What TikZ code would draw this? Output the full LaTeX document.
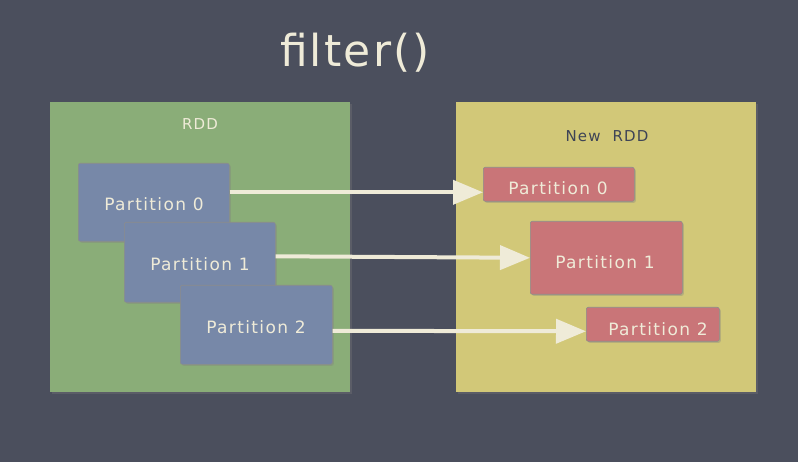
\documentclass[tikz,border=0pt]{standalone}
\usepackage{fontspec}
\setmainfont{DejaVu Sans}
\newfontfamily\chalkfont[LetterSpace=8]{DejaVu Sans}
\newfontfamily\titlefont[LetterSpace=5]{DejaVu Sans}
\usetikzlibrary{arrows.meta,shadows}
\definecolor{board}{HTML}{4B4F5D}
\definecolor{rddgreen}{HTML}{8AAD78}
\definecolor{rddyellow}{HTML}{D2C878}
\definecolor{partblue}{HTML}{7788A8}
\definecolor{partred}{HTML}{C97578}
\definecolor{chalk}{HTML}{EFEBD8}
\definecolor{ink}{HTML}{3E4456}
\tikzset{
  rddbox/.style={draw=none, anchor=north west, inner sep=0pt},
  partbox/.style={draw=black!45, line width=0.6pt, anchor=north west, inner sep=0pt,
    rounded corners=2pt, drop shadow={shadow xshift=1.5pt, shadow yshift=-1.5pt, opacity=0.35}},
  parttext/.style={text=chalk, font=\chalkfont\fontsize{17}{20}\selectfont},
  labeltext/.style={font=\chalkfont\fontsize{15}{18}\selectfont},
  chalkarrow/.style={draw=chalk, line width=4pt, -{Triangle[width=24pt,length=30pt]}},
}
\begin{document}
\begin{tikzpicture}[x=1pt,y=-1pt]
\fill[board] (0,0) rectangle (798,462);
\useasboundingbox (0,0) rectangle (798,462);
% title
\node[text=chalk, font=\titlefont\fontsize{44}{50}\selectfont] (title) at (355,53) {filter()};
% RDD containers
\node[rddbox, fill=rddgreen, minimum width=300pt, minimum height=290pt,
  drop shadow={shadow xshift=2pt, shadow yshift=-2pt, opacity=0.3}] (rdd) at (50,102) {};
\node[rddbox, fill=rddyellow, minimum width=300pt, minimum height=290pt,
  drop shadow={shadow xshift=2pt, shadow yshift=-2pt, opacity=0.3}] (newrdd) at (456,102) {};
\node[labeltext, text=chalk] (rddlabel) at (200,124) {RDD};
\node[labeltext, text=ink] (newrddlabel) at (607,136) {New\ \ RDD};
% source partitions
\node[partbox, fill=partblue, minimum width=151pt, minimum height=78pt] (p0) at (78,163) {};
\node[parttext] at (154,204) {Partition 0};
\node[partbox, fill=partblue, minimum width=151pt, minimum height=80pt] (p1) at (124,222) {};
\node[parttext] at (200,264) {Partition 1};
\node[partbox, fill=partblue, minimum width=152pt, minimum height=79pt] (p2) at (180,285) {};
\node[parttext] at (256,327) {Partition 2};
% filtered partitions
\node[partbox, fill=partred, minimum width=151pt, minimum height=34pt] (r0) at (483,167) {};
\node[parttext] at (558,188) {Partition 0};
\node[partbox, fill=partred, minimum width=152pt, minimum height=73pt] (r1) at (530,221) {};
\node[parttext] at (605,262) {Partition 1};
\node[partbox, fill=partred, minimum width=133pt, minimum height=34pt] (r2) at (586,307) {};
\node[parttext] at (658,329) {Partition 2};
% arrows
\draw[chalkarrow] ([yshift=10pt]p0.east) -- ([yshift=-8pt]r0.west);
\draw[chalkarrow] ([yshift=6pt]p1.east) -- ([yshift=0pt]r1.west);
\draw[chalkarrow] ([yshift=-6pt]p2.east) -- ([yshift=-7pt]r2.west);
\end{tikzpicture}
\end{document}
